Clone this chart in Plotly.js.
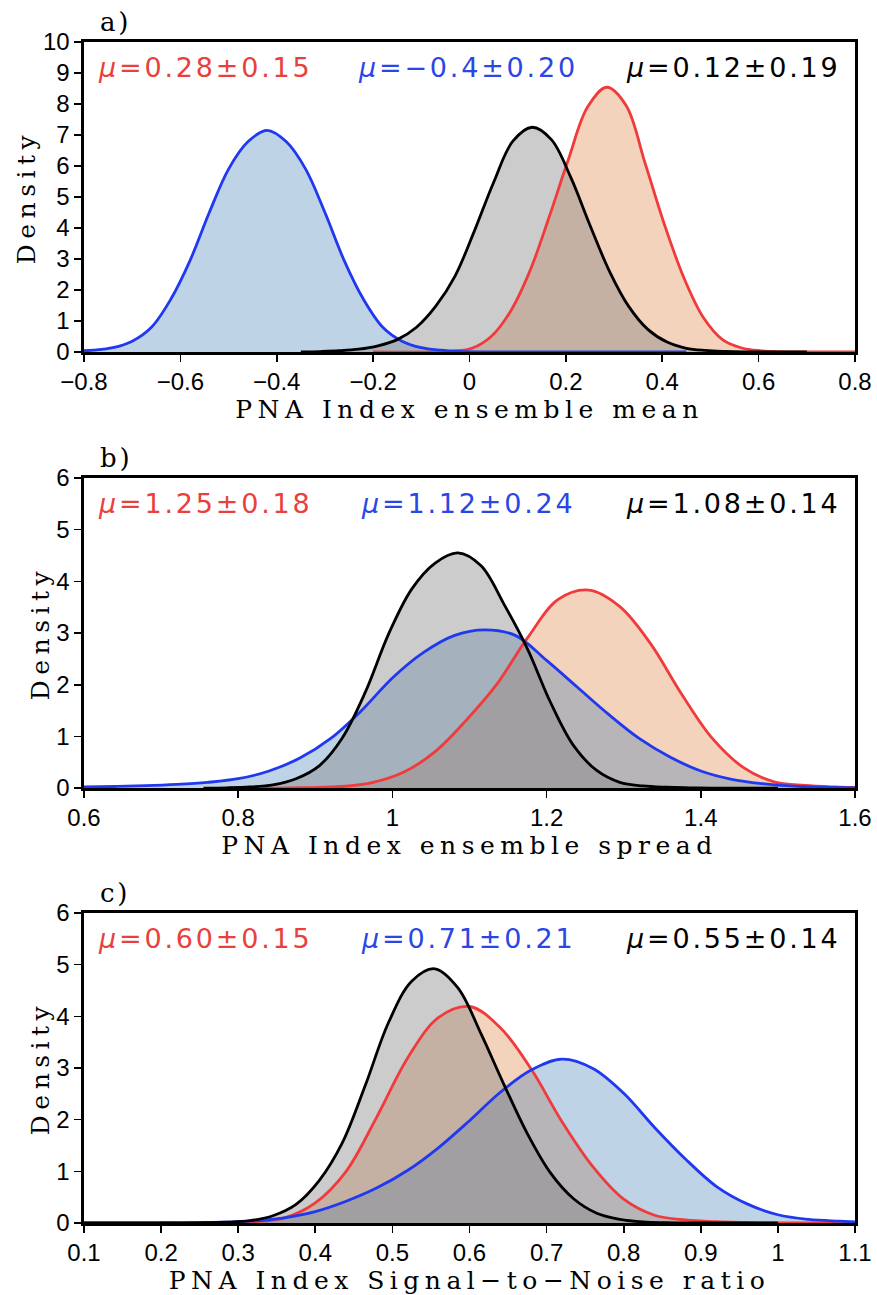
<!DOCTYPE html>
<html><head><meta charset="utf-8">
<script src="https://cdn.plot.ly/plotly-3.0.1.min.js"></script>
<style>
html,body{margin:0;padding:0;background:#fff;}
#chart{width:877px;height:1295px;}
text.xtitle, text.x2title, text.x3title, text.ytitle, text.y2title, text.y3title {letter-spacing:5.5px;}
.annotation-text{letter-spacing:2.8px;}
</style></head><body><div id="chart"></div>
<script>
// ---- Panel a: PNA Index ensemble mean ----
const meanRedX   = [-0.20, -0.075, -0.035, 0.005, 0.045, 0.085, 0.125, 0.165, 0.205, 0.245, 0.285, 0.325, 0.365, 0.405, 0.445, 0.485, 0.525, 0.565, 0.605, 0.645, 0.685, 0.80];
const meanRedY   = [0.0, 0.0, 0.03, 0.12, 0.50, 1.31, 2.60, 4.34, 6.20, 7.90, 8.54, 7.95, 6.06, 4.09, 2.39, 1.12, 0.40, 0.13, 0.04, 0.01, 0.0, 0.0];
const meanBlueX  = [-0.80, -0.78, -0.74, -0.70, -0.66, -0.62, -0.58, -0.54, -0.50, -0.46, -0.42, -0.38, -0.34, -0.30, -0.26, -0.22, -0.18, -0.14, -0.10, -0.06, -0.02, 0.02, 0.06, 0.45];
const meanBlueY  = [0.04, 0.06, 0.14, 0.35, 0.80, 1.70, 2.95, 4.50, 5.90, 6.78, 7.15, 6.78, 5.90, 4.50, 2.95, 1.70, 0.80, 0.35, 0.14, 0.06, 0.02, 0.005, 0.0, 0.0];
const meanBlackX = [-0.35, -0.31, -0.27, -0.23, -0.19, -0.15, -0.11, -0.07, -0.03, 0.01, 0.05, 0.09, 0.13, 0.17, 0.21, 0.25, 0.29, 0.33, 0.37, 0.41, 0.45, 0.49, 0.53, 0.57, 0.61, 0.70];
const meanBlackY = [0.0, 0.015, 0.04, 0.09, 0.20, 0.40, 0.80, 1.48, 2.45, 3.90, 5.47, 6.80, 7.25, 6.85, 5.64, 4.09, 2.62, 1.48, 0.73, 0.32, 0.12, 0.05, 0.02, 0.005, 0.0, 0.0];

// ---- Panel b: PNA Index ensemble spread ----
const spreadRedX   = [0.80, 0.855, 0.895, 0.935, 0.975, 1.015, 1.055, 1.095, 1.135, 1.175, 1.215, 1.255, 1.295, 1.335, 1.375, 1.415, 1.455, 1.495, 1.535, 1.575, 1.60];
const spreadRedY   = [0.0, 0.0, 0.01, 0.03, 0.11, 0.31, 0.70, 1.30, 2.00, 2.90, 3.65, 3.83, 3.51, 2.79, 1.82, 0.96, 0.40, 0.12, 0.05, 0.02, 0.01];
const spreadBlueX  = [0.60, 0.64, 0.68, 0.72, 0.76, 0.80, 0.84, 0.88, 0.92, 0.96, 1.00, 1.04, 1.08, 1.12, 1.16, 1.20, 1.24, 1.28, 1.32, 1.36, 1.40, 1.44, 1.48, 1.52, 1.56, 1.60];
const spreadBlueY  = [0.02, 0.03, 0.045, 0.07, 0.11, 0.18, 0.33, 0.58, 0.96, 1.50, 2.13, 2.62, 2.95, 3.06, 2.95, 2.47, 1.95, 1.43, 0.96, 0.60, 0.33, 0.17, 0.085, 0.035, 0.015, 0.005];
const spreadBlackX = [0.755, 0.785, 0.815, 0.845, 0.875, 0.905, 0.935, 0.965, 0.995, 1.025, 1.055, 1.085, 1.115, 1.145, 1.175, 1.205, 1.235, 1.265, 1.295, 1.325, 1.355, 1.385, 1.415, 1.50];
const spreadBlackY = [0.0, 0.005, 0.02, 0.06, 0.18, 0.43, 0.97, 1.86, 2.98, 3.85, 4.35, 4.55, 4.30, 3.55, 2.70, 1.66, 0.82, 0.34, 0.11, 0.04, 0.015, 0.005, 0.0, 0.0];

// ---- Panel c: PNA Index Signal-to-Noise ratio ----
const snrRedX   = [0.20, 0.24, 0.28, 0.32, 0.36, 0.40, 0.44, 0.48, 0.52, 0.56, 0.60, 0.64, 0.68, 0.72, 0.76, 0.80, 0.84, 0.88, 0.92, 0.96, 1.00, 1.10];
const snrRedY   = [0.0, 0.0, 0.01, 0.025, 0.10, 0.39, 1.00, 2.06, 3.20, 3.98, 4.19, 3.78, 2.98, 1.96, 1.09, 0.46, 0.15, 0.06, 0.025, 0.01, 0.0, 0.0];
const snrBlueX  = [0.10, 0.20, 0.24, 0.28, 0.32, 0.36, 0.40, 0.44, 0.48, 0.52, 0.56, 0.60, 0.64, 0.68, 0.72, 0.76, 0.80, 0.84, 0.88, 0.92, 0.96, 1.00, 1.04, 1.08, 1.10];
const snrBlueY  = [0.0, 0.0, 0.005, 0.015, 0.04, 0.10, 0.22, 0.42, 0.68, 1.02, 1.46, 1.98, 2.53, 2.96, 3.17, 2.99, 2.51, 1.85, 1.24, 0.71, 0.37, 0.16, 0.07, 0.035, 0.02];
const snrBlackX = [0.10, 0.225, 0.255, 0.285, 0.315, 0.345, 0.375, 0.405, 0.435, 0.465, 0.495, 0.525, 0.555, 0.585, 0.615, 0.645, 0.675, 0.705, 0.735, 0.765, 0.795, 0.825, 0.855, 0.885, 1.00];
const snrBlackY = [0.0, 0.0, 0.005, 0.015, 0.045, 0.14, 0.36, 0.82, 1.55, 2.67, 3.88, 4.68, 4.92, 4.55, 3.66, 2.67, 1.73, 0.97, 0.47, 0.19, 0.07, 0.02, 0.005, 0.0, 0.0];

// ---- Text ----
const panelLetters = ['a)', 'b)', 'c)'];
const xTitles = ['PNA Index ensemble mean', 'PNA Index ensemble spread', 'PNA Index Signal\u2212to\u2212Noise ratio'];
const yTitle = 'Density';
const muRed   = ['0.28\u00b10.15', '1.25\u00b10.18', '0.60\u00b10.15'];
const muBlue  = ['\u22120.4\u00b10.20', '1.12\u00b10.24', '0.71\u00b10.21'];
const muBlack = ['0.12\u00b10.19', '1.08\u00b10.14', '0.55\u00b10.14'];
const xRanges = [[-0.8, 0.8], [0.6, 1.6], [0.1, 1.1]];
const xDticks = [0.2, 0.2, 0.1];
const yRanges = [[0, 10], [0, 6], [0, 6]];

// ---- Styles ----
const RED = '#f03a3c', BLUE = '#2038f0', BLACK = '#000000';
const RED_FILL = 'rgba(222,130,60,0.35)';
const BLUE_FILL = 'rgba(60,120,180,0.33)';
const GRAY_FILL = 'rgba(128,128,128,0.40)';
const RED_TXT = '#e8413c', BLUE_TXT = '#2a46e6';

const series = [
  [[meanRedX, meanRedY], [meanBlueX, meanBlueY], [meanBlackX, meanBlackY]],
  [[spreadRedX, spreadRedY], [spreadBlueX, spreadBlueY], [spreadBlackX, spreadBlackY]],
  [[snrRedX, snrRedY], [snrBlueX, snrBlueY], [snrBlackX, snrBlackY]]
];
const lineColors = [RED, BLUE, BLACK];
const fillColors = [RED_FILL, BLUE_FILL, GRAY_FILL];

const traces = [];
series.forEach((panel, p) => {
  const xa = p === 0 ? 'x' : 'x' + (p + 1);
  const ya = p === 0 ? 'y' : 'y' + (p + 1);
  panel.forEach((s, k) => {
    traces.push({x: s[0], y: s[1], xaxis: xa, yaxis: ya, type: 'scatter', mode: 'lines',
      line: {width: 0, shape: 'spline', smoothing: 1, color: lineColors[k]},
      fill: 'tozeroy', fillcolor: fillColors[k], hoverinfo: 'skip', showlegend: false});
  });
  panel.forEach((s, k) => {
    traces.push({x: s[0], y: s[1], xaxis: xa, yaxis: ya, type: 'scatter', mode: 'lines',
      line: {width: 2.8, shape: 'spline', smoothing: 1, color: lineColors[k]},
      hoverinfo: 'skip', showlegend: false});
  });
});

const yDomains = [[0.7375, 1.0], [0.3683, 0.6308], [0.0, 0.2625]];
const tickFont = {family: 'Liberation Sans, Arial, sans-serif', size: 24, color: '#000'};
const titleFont = {family: 'DejaVu Serif, serif', size: 25, color: '#000'};
const muFont = {family: 'DejaVu Sans, sans-serif', size: 27};

const layout = {
  width: 877, height: 1295,
  margin: {l: 84, r: 22, t: 42, b: 72},
  paper_bgcolor: '#ffffff', plot_bgcolor: '#ffffff',
  showlegend: false, hovermode: false,
  annotations: []
};

for (let p = 0; p < 3; p++) {
  const sx = p === 0 ? '' : String(p + 1);
  layout['xaxis' + sx] = {
    domain: [0, 1], anchor: 'y' + sx, range: xRanges[p],
    tick0: xRanges[p][0], dtick: xDticks[p], ticks: 'outside', ticklen: 7, tickwidth: 1.6, tickcolor: '#000',
    showline: true, linewidth: 2.6, linecolor: '#000', mirror: true, showgrid: false, zeroline: false,
    tickfont: tickFont,
    title: {text: xTitles[p], font: titleFont, standoff: 3}
  };
  layout['yaxis' + sx] = {
    domain: yDomains[p], anchor: 'x' + sx, range: yRanges[p],
    tick0: 0, dtick: 1, ticks: 'outside', ticklen: 7, tickwidth: 1.6, tickcolor: '#000',
    showline: true, linewidth: 2.6, linecolor: '#000', mirror: true, showgrid: false, zeroline: false,
    tickfont: tickFont,
    title: {text: yTitle, font: titleFont, standoff: 0}
  };
  const xr = 'x' + sx + ' domain', yr = 'y' + sx + ' domain';
  layout.annotations.push(
    {text: panelLetters[p], xref: xr, yref: yr, x: 0.018, y: 1.065, xanchor: 'left', yanchor: 'middle', showarrow: false,
     font: {family: 'DejaVu Serif, serif', size: 26, color: '#000'}},
    {text: '<i>\u03bc</i>=' + muRed[p], xref: xr, yref: yr, x: 0.0156, y: 0.919, xanchor: 'left', yanchor: 'middle', showarrow: false,
     font: Object.assign({color: RED_TXT}, muFont)},
    {text: '<i>\u03bc</i>=' + muBlue[p], xref: xr, yref: yr, x: 0.498, y: 0.919, xanchor: 'center', yanchor: 'middle', showarrow: false,
     font: Object.assign({color: BLUE_TXT}, muFont)},
    {text: '<i>\u03bc</i>=' + muBlack[p], xref: xr, yref: yr, x: 0.983, y: 0.919, xanchor: 'right', yanchor: 'middle', showarrow: false,
     font: Object.assign({color: '#000'}, muFont)}
  );
}

Plotly.newPlot('chart', traces, layout, {staticPlot: true, displayModeBar: false});
</script></body></html>
